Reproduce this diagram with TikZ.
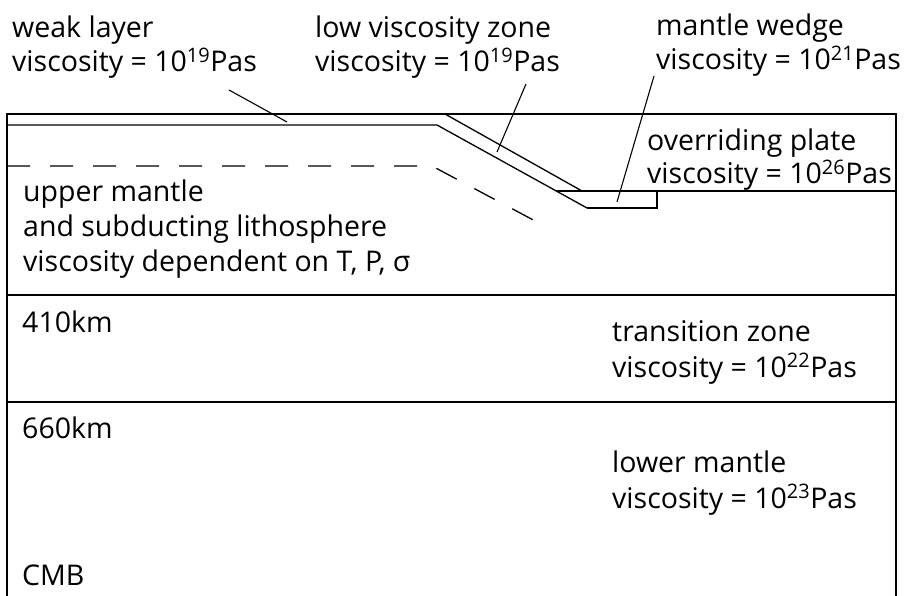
\documentclass[tikz,border=0pt]{standalone}
\usepackage{fontspec}
\setmainfont{Open Sans}
\begin{document}
\begin{tikzpicture}[x=1pt,y=-1pt,
  ln/.style={line width=1.3pt, line join=miter},
  lead/.style={line width=1.1pt},
  lbl/.style={anchor=base west, inner sep=0pt, font=\fontsize{28.5}{34}\selectfont},
  dsh/.style={line width=1.3pt, dash pattern=on 23pt off 20pt}]
\useasboundingbox (0,0) rectangle (908,596);

% model box: top surface, sides running off the bottom
\draw[ln] (7,596) -- (7,114) -- (896,114) -- (896,596);
% 410 km and 660 km discontinuities
\draw[ln] (7,295) -- (896,295);
\draw[ln] (7,402) -- (896,402);

% weak layer base continuing down the slab
\draw[ln] (7,125) -- (437,125) -- (587,208);
% top of the low viscosity zone
\draw[ln] (445,114) -- (582,191);
% base of the overriding plate
\draw[ln] (556,191) -- (896,191);
% mantle wedge box
\draw[ln] (587,208) -- (657,208) -- (657,191);
% base of the subducting lithosphere
\draw[dsh] (7,166) -- (432,166) -- (537,222);

% labels
\node[lbl] (wl1) at (12,38) {weak layer};
\node[lbl] (wl2) at (12,72) {viscosity = 10\textsuperscript{19}Pas};
\node[lbl] (lv1) at (315,38) {low viscosity zone};
\node[lbl] (lv2) at (315,72) {viscosity = 10\textsuperscript{19}Pas};
\node[lbl] (mw1) at (656,36) {mantle wedge};
\node[lbl] (mw2) at (656,70) {viscosity = 10\textsuperscript{21}Pas};
\node[lbl] (op1) at (647,151) {overriding plate};
\node[lbl] (op2) at (647,184) {viscosity = 10\textsuperscript{26}Pas};
\node[lbl] (um1) at (23,202) {upper mantle};
\node[lbl] (um2) at (23,237) {and subducting lithosphere};
\node[lbl] (um3) at (23,272) {viscosity dependent on T, P, σ};
\node[lbl] (d410) at (22,332) {410km};
\node[lbl] (tz1) at (612,341) {transition zone};
\node[lbl] (tz2) at (612,377) {viscosity = 10\textsuperscript{22}Pas};
\node[lbl] (d660) at (22,438) {660km};
\node[lbl] (lm1) at (612,472) {lower mantle};
\node[lbl] (lm2) at (612,508) {viscosity = 10\textsuperscript{23}Pas};
\node[lbl] (cmb) at (22,585) {CMB};

% leader lines
\coordinate (wlp) at (287,122);
\coordinate (lvp) at (497,152);
\coordinate (mwp) at (617,202);
\draw[lead] (229,90) -- (wlp);
\draw[lead] (526,84) -- (lvp);
\draw[lead] (654,76) -- (mwp);
\end{tikzpicture}
\end{document}
